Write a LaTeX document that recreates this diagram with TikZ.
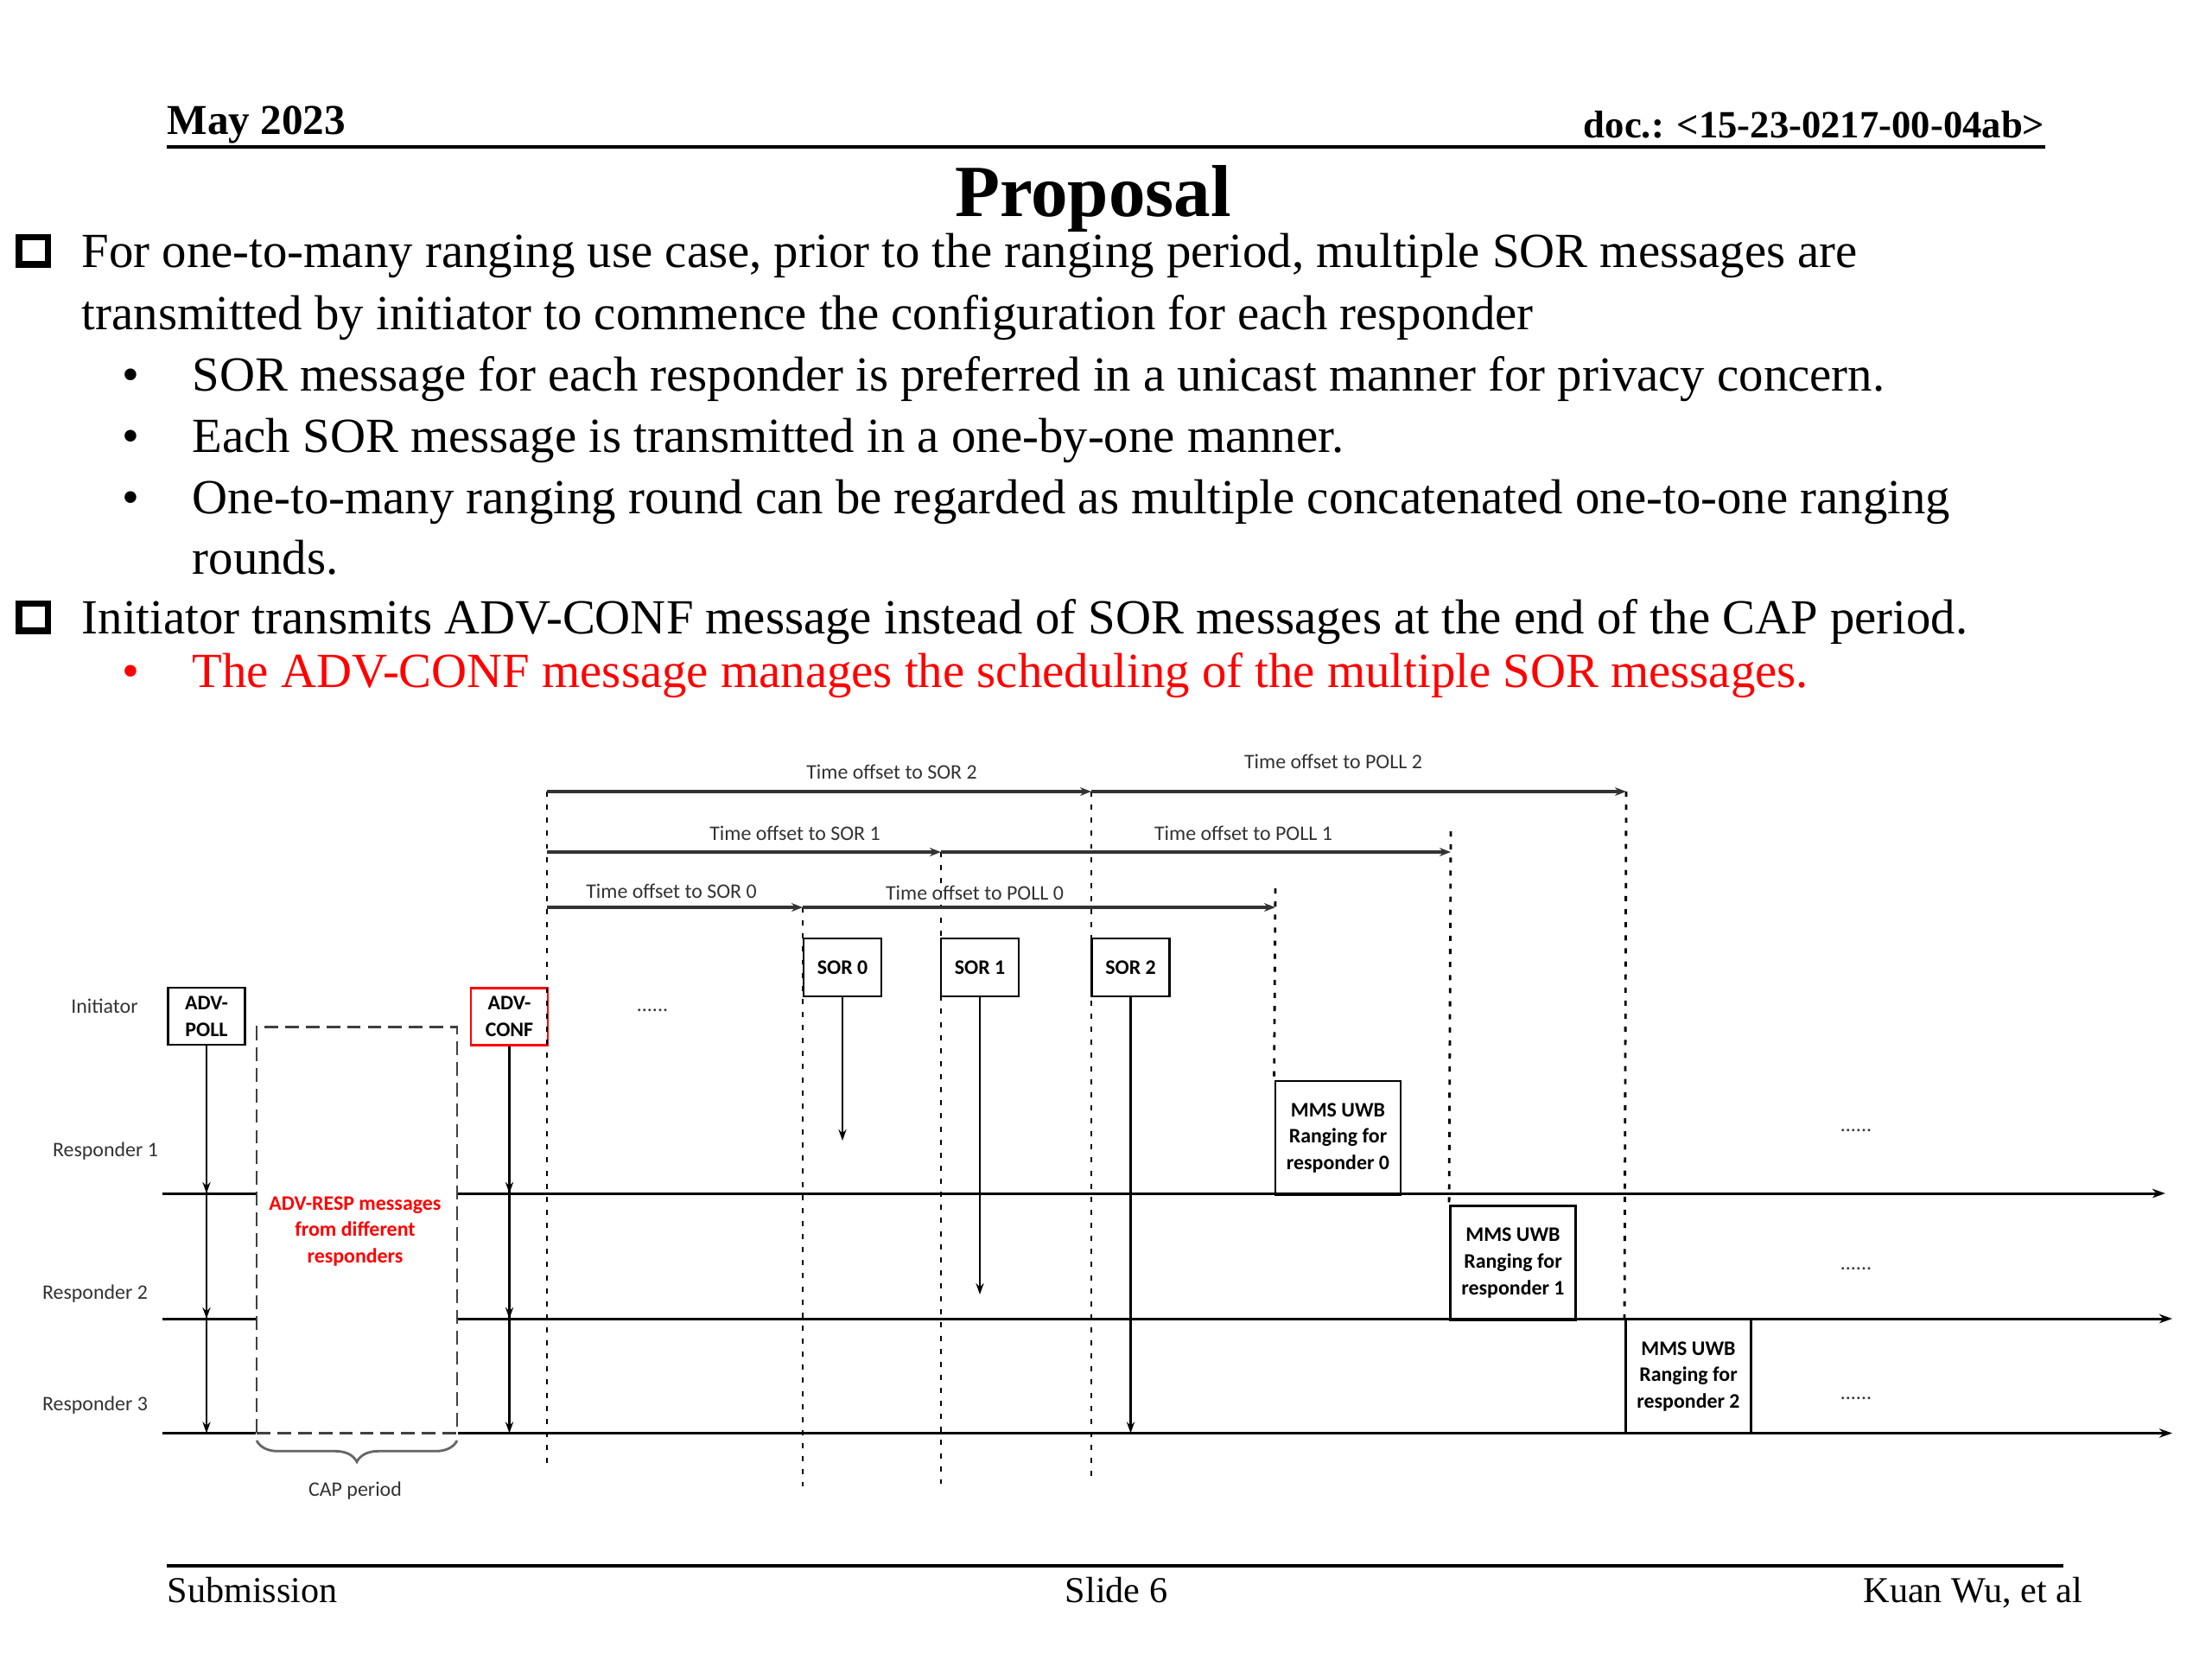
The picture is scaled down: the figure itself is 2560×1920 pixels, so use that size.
\documentclass[tikz,border=0pt]{standalone}
\usepackage{fontspec}
\setmainfont{Liberation Serif}
\newfontfamily\diagfont{Carlito}
\usetikzlibrary{arrows.meta,decorations.pathreplacing}
\definecolor{pptred}{RGB}{255,0,0}
\definecolor{lblgray}{RGB}{50,50,50}
\begin{document}
\begin{tikzpicture}[x=0.01cm, y=-0.01cm,
        every node/.style={inner sep=0pt},
        bodytxt/.style={anchor=base west, font=\fontsize{16.15pt}{19pt}\selectfont},
        bul/.style={anchor=base, font=\fontsize{16.15pt}{19pt}\selectfont},
        hdrtxt/.style={font=\fontsize{12.7pt}{15pt}\selectfont\bfseries},
        foottxt/.style={anchor=base, font=\fontsize{12pt}{14pt}\selectfont},
        lbl/.style={text=lblgray, font=\diagfont\fontsize{6.8pt}{8.8pt}\selectfont},
        msgbox/.style={draw, line width=0.8pt, align=center, minimum width=0.89cm, minimum height=0.66cm,
            font=\diagfont\bfseries\fontsize{6.8pt}{8.8pt}\selectfont},
        mmsbox/.style={msgbox, minimum width=1.45cm, minimum height=1.32cm},
        capbox/.style={draw=black!75, line width=0.8pt, dash pattern=on 4.5pt off 2.3pt,
            minimum width=2.32cm, minimum height=4.69cm},
        rline/.style={draw, line width=0.85pt},
        varr/.style={draw, line width=0.6pt, -{Stealth[length=3.7pt,width=2.6pt]}},
        harr/.style={draw=black!80, line width=0.9pt, -{Stealth[length=3.7pt,width=2.8pt]}},
        vdot/.style={draw, line width=0.8pt, dash pattern=on 1.7pt off 2.6pt},
        brc/.style={draw=black!60, line width=0.8pt, decorate, decoration={brace, amplitude=7pt}},
    ]
    \useasboundingbox (0,0) rectangle (2560,1920);
    \node[hdrtxt, anchor=base west, font=\fontsize{14pt}{16pt}\selectfont\bfseries] (date) at (193,155) {May 2023};
    \node[hdrtxt, anchor=base east] (doc) at (2367,159) {doc.: <15-23-0217-00-04ab>};
    \draw[line width=0.04cm] (date.west |- 0,170) -- (doc.east |- 0,170);
    \node[anchor=base, font=\fontsize{24.2pt}{28pt}\selectfont\bfseries] (title) at (1265,250) {Proposal};

    \draw[line width=0.075cm] (22,274.5) rectangle (55.5,306);
    \node[bodytxt] (l1) at (94,309.6) {For one-to-many ranging use case, prior to the ranging period, multiple SOR messages are};
    \node[bodytxt] (l2) at (94,381.6) {transmitted by initiator to commence the configuration for each responder};
    \node[bul] (b1) at (151,452.4) {•};
    \node[bodytxt] (l3) at (222,452.4) {SOR message for each responder is preferred in a unicast manner for privacy concern.};
    \node[bul] (b2) at (151,523) {•};
    \node[bodytxt] (l4) at (222,523) {Each SOR message is transmitted in a one-by-one manner.};
    \node[bul] (b3) at (151,594) {•};
    \node[bodytxt] (l5) at (222,594) {One-to-many ranging round can be regarded as multiple concatenated one-to-one ranging};
    \node[bodytxt] (l6) at (222,664.8) {rounds.};
    \draw[line width=0.075cm] (22,698.5) rectangle (55.5,730);
    \node[bodytxt] (l7) at (94,733.7) {Initiator transmits ADV-CONF message instead of SOR messages at the end of the CAP period.};
    \node[bul, text=pptred] (b4) at (151,795) {•};
    \node[bodytxt, text=pptred] (l8) at (222,795) {The ADV-CONF message manages the scheduling of the multiple SOR messages.};

    \node[lbl] (init) at (121,1164) {Initiator};
    \node[lbl] (resp1) at (122,1332) {Responder 1};
    \node[lbl] (resp2) at (110,1497) {Responder 2};
    \node[lbl] (resp3) at (110,1626) {Responder 3};

    \node[msgbox] (poll) at (239,1176) {ADV-\\POLL};
    \node[msgbox, draw=pptred] (conf) at (589.5,1176.5) {ADV-\\CONF};
    \node[capbox] (cap) at (413,1423.5) {};
    \node[lbl, text=pptred, font=\diagfont\bfseries\fontsize{6.8pt}{8.8pt}\selectfont, align=center] (resp) at (411,1425)
        {ADV-RESP messages\\from different\\responders};
    \coordinate (b1r) at (529,1667);
    \coordinate (b1l) at (297,1667);
    \draw[brc] (b1r) -- (b1l);
    \node[lbl] (cappd) at (411,1725) {CAP period};

    \coordinate (r1) at (188,1381);
    \coordinate (r2) at (188,1526);
    \coordinate (r3) at (188,1658.5);
    \coordinate (r1e) at (2506,1381);
    \coordinate (r2e) at (2514,1526);
    \coordinate (r3e) at (2514,1658.5);
    \draw[rline] (r1) -- (r1 -| cap.west);
    \draw[rline] (r2) -- (r2 -| cap.west);
    \draw[rline] (r3) -- (r3 -| cap.west);
    \draw[rline, -{Stealth[length=4.3pt,width=3pt]}] (r1 -| cap.east) -- (r1e);
    \draw[rline, -{Stealth[length=4.3pt,width=3pt]}] (r2 -| cap.east) -- (r2e);
    \draw[rline, -{Stealth[length=4.3pt,width=3pt]}] (r3 -| cap.east) -- (r3e);

    \draw[varr] (poll.south) -- (poll.south |- r1);
    \draw[varr] (poll.south) -- (poll.south |- r2);
    \draw[varr] (poll.south) -- (poll.south |- r3);
    \draw[varr] (conf.south) -- (conf.south |- r1);
    \draw[varr] (conf.south) -- (conf.south |- r2);
    \draw[varr] (conf.south) -- (conf.south |- r3);

    \node[lbl] (gap) at (755,1169) {......};

    \node[msgbox, minimum width=0.9cm, minimum height=0.67cm] (sor0) at (975,1119.5) {SOR 0};
    \node[msgbox, minimum width=0.9cm, minimum height=0.67cm] (sor1) at (1134,1119.5) {SOR 1};
    \node[msgbox, minimum width=0.9cm, minimum height=0.67cm] (sor2) at (1308.5,1119.5) {SOR 2};
    \coordinate (s0e) at (975,1320);
    \coordinate (s1e) at (1134,1498);
    \draw[varr] (sor0.south) -- (s0e);
    \draw[varr] (sor1.south) -- (s1e);
    \draw[varr] (sor2.south) -- (sor2.south |- r3);

    \node[mmsbox] (mms0) at (1548.5,1317) {MMS UWB\\Ranging for\\responder 0};
    \node[mmsbox] (mms1) at (1751,1461.5) {MMS UWB\\Ranging for\\responder 1};
    \node[mmsbox] (mms2) at (1954,1593) {MMS UWB\\Ranging for\\responder 2};
    \node[lbl] (more1) at (2148,1308) {......};
    \node[lbl] (more2) at (2148,1468) {......};
    \node[lbl] (more3) at (2148,1618) {......};

    \coordinate (t2) at (633,916);
    \coordinate (t1) at (633,986);
    \coordinate (t0) at (633,1050);
    \coordinate (tb) at (633,1696);
    \coordinate (g2) at (1263,916);
    \coordinate (g1) at (1089,986);
    \coordinate (g0) at (929,1050);
    \coordinate (g2b) at (1263,1709);
    \coordinate (g1b) at (1089,1717);
    \coordinate (g0b) at (929,1720);
    \coordinate (q2) at (1882,916);
    \coordinate (q1) at (1679,986);
    \coordinate (q0) at (1476,1050);
    \coordinate (q1t) at (1679,962);
    \coordinate (q0t) at (1476,1028);

    \draw[vdot] (t2) -- (tb);
    \draw[vdot] (g2) -- (g2b);
    \draw[vdot] (g1) -- (g1b);
    \draw[vdot] (g0) -- (g0b);
    \draw[vdot] (q2) -- (mms2.north west);
    \draw[vdot] (q1t) -- (mms1.north west);
    \draw[vdot] (q0t) -- (mms0.north west);

    \draw[harr] (t2) -- (g2);
    \draw[harr] (g2) -- (q2);
    \draw[harr] (t1) -- (g1);
    \draw[harr] (g1) -- (q1);
    \draw[harr] (t0) -- (g0);
    \draw[harr] (g0) -- (q0);
    \node[lbl] (ts2) at (1032,893) {Time offset to SOR 2};
    \node[lbl] (tp2) at (1543,881) {Time offset to POLL 2};
    \node[lbl] (ts1) at (920,964) {Time offset to SOR 1};
    \node[lbl] (tp1) at (1439,964) {Time offset to POLL 1};
    \node[lbl] (ts0) at (777,1031) {Time offset to SOR 0};
    \node[lbl] (tp0) at (1128,1033) {Time offset to POLL 0};

    \draw[line width=0.04cm] (193,1812) -- (2388,1812);
    \node[foottxt, anchor=base west] (sub) at (193,1854) {Submission};
    \node[foottxt] (slide) at (1292,1854) {Slide 6};
    \node[foottxt, anchor=base east] (auth) at (2411,1854) {Kuan Wu, et al};
\end{tikzpicture}
\end{document}
